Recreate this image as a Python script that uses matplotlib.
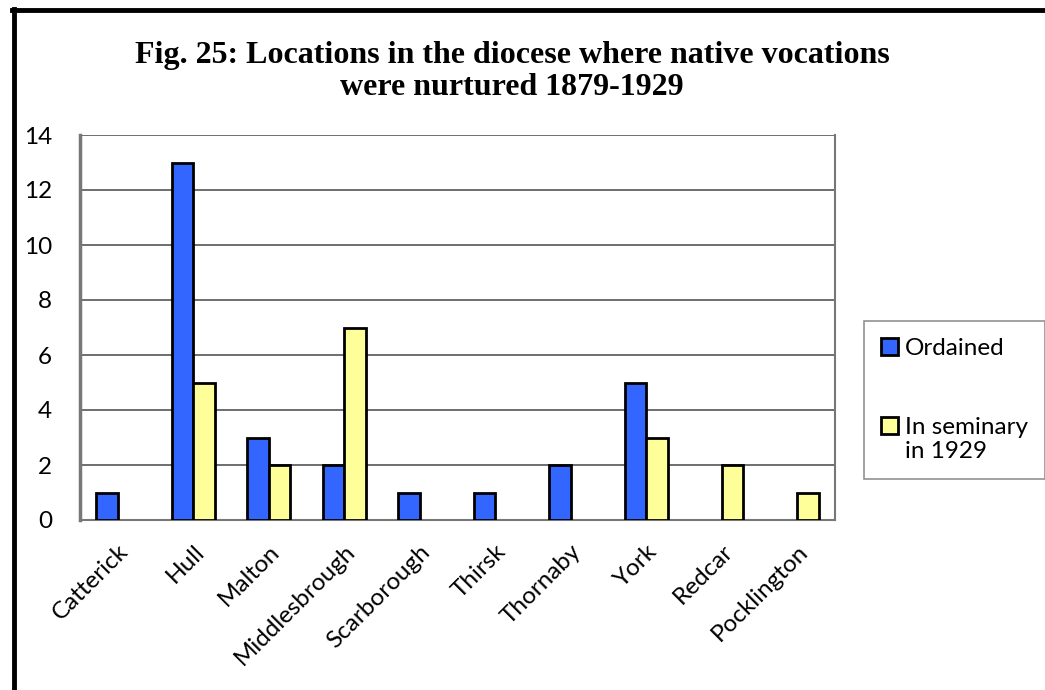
from matplotlib import pyplot as plt
from matplotlib.lines import Line2D
from matplotlib.patches import Rectangle, Patch
from matplotlib.legend_handler import HandlerPatch
import numpy as np

# Data
places = ['Catterick', 'Hull', 'Malton', 'Middlesbrough', 'Scarborough',
          'Thirsk', 'Thornaby', 'York', 'Redcar', 'Pocklington']
ordained = [1, 13, 3, 2, 1, 1, 2, 5, 0, 0]
seminary = [0, 5, 2, 7, 0, 0, 0, 3, 2, 1]
yticks = [0, 2, 4, 6, 8, 10, 12, 14]

W, H = 1045, 690
FS = 17.5
BLUE, YELLOW = '#3366FF', '#FFFF99'
fig = plt.figure(figsize=(W / 100, H / 100), dpi=100)
ax = fig.add_axes([80 / W, 1 - 520 / H, 755 / W, 385 / H])

x = np.arange(len(places))
bw = 1 / 3.5


def edges(vals):
    # no outline on empty bars
    return ['black' if v > 0 else 'none' for v in vals]


ax.bar(x - bw / 2, ordained, bw, color=BLUE, edgecolor=edges(ordained),
       linewidth=2, zorder=3)
ax.bar(x + bw / 2, seminary, bw, color=YELLOW, edgecolor=edges(seminary),
       linewidth=2, zorder=3)

ax.set_xlim(-0.5, len(places) - 0.5)
ax.set_ylim(0, 14)
ax.set_yticks(yticks)
ax.yaxis.grid(True, color='#555555', linewidth=1.2, zorder=0)
ax.set_axisbelow(True)

for side in ['left', 'right', 'bottom']:
    ax.spines[side].set_color('#777777')
    ax.spines[side].set_linewidth(1.5)
ax.spines['left'].set_linewidth(2.5)
ax.spines['top'].set_visible(False)

tfont = {'family': 'Lato', 'size': FS}
ax.set_xticks(x)
ax.set_xticklabels(places, rotation=45, ha='right', rotation_mode='anchor',
                   fontdict=tfont)
ax.set_yticklabels([str(v) for v in yticks], fontdict=tfont)
ax.tick_params(axis='both', length=0)
ax.tick_params(axis='y', pad=20)
ax.tick_params(axis='x', pad=15)


def first_line_patch(legend, orig_handle, xdescent, ydescent, width, height,
                     fontsize):
    shift = 0.6 * fontsize if '\n' in orig_handle.get_label() else 0
    return Rectangle((-xdescent, -ydescent + shift), width, height)


handles = [Patch(facecolor=BLUE, edgecolor='black', linewidth=2,
                 label='Ordained'),
           Patch(facecolor=YELLOW, edgecolor='black', linewidth=2,
                 label='In seminary\nin 1929')]
leg = fig.legend(handles=handles, loc='center left',
                 bbox_to_anchor=(864 / W, 1 - 400 / H),
                 prop={'family': 'Lato', 'size': FS}, fancybox=False,
                 edgecolor='#777777', labelspacing=2.4, handlelength=0.7,
                 handleheight=0.7, handletextpad=0.3, borderpad=0.7,
                 borderaxespad=0,
                 handler_map={Patch: HandlerPatch(patch_func=first_line_patch)})
leg.get_frame().set_linewidth(1.2)

fig.text(0.49, 1 - 41 / H, 'Fig. 25: Locations in the diocese where native vocations\nwere nurtured 1879-1929',
         ha='center', va='top', family='Liberation Serif',
         fontweight='bold', fontsize=23, linespacing=1.12)

# black frame along left and top edges
fig.add_artist(Line2D([13.5 / W, 13.5 / W], [0, 1 - 9 / H], color='black',
                      linewidth=3.5, transform=fig.transFigure))
fig.add_artist(Line2D([12 / W, 1], [1 - 9.5 / H, 1 - 9.5 / H], color='black',
                      linewidth=3.5, transform=fig.transFigure))

fig.savefig('out.png', dpi=100)
